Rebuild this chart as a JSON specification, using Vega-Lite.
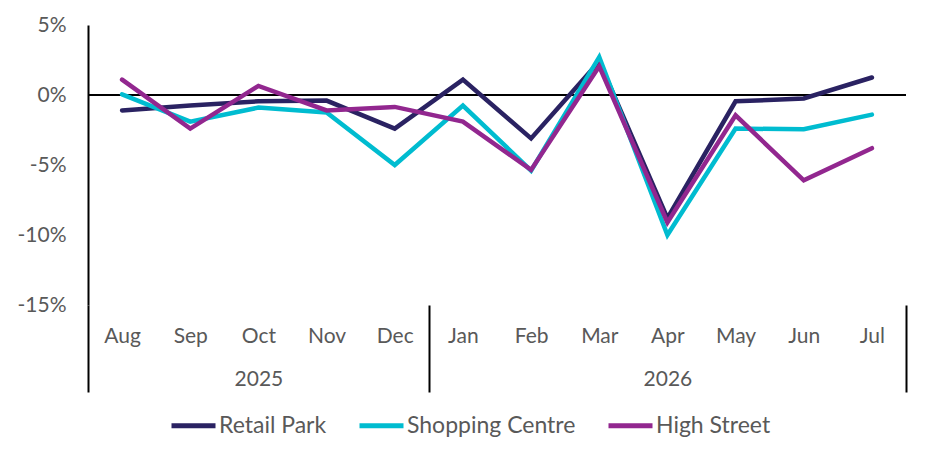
{
  "$schema": "https://vega.github.io/schema/vega-lite/v6.json",
  "width": 818,
  "height": 280,
  "autosize": {"type": "none"},
  "padding": {"left": 88, "top": 25, "right": 23, "bottom": 151},
  "background": "white",
  "data": {
    "values": [
      {"series": "Retail Park", "month": "Aug", "value": -1.1},
      {"series": "Retail Park", "month": "Sep", "value": -0.75},
      {"series": "Retail Park", "month": "Oct", "value": -0.45},
      {"series": "Retail Park", "month": "Nov", "value": -0.4},
      {"series": "Retail Park", "month": "Dec", "value": -2.4},
      {"series": "Retail Park", "month": "Jan", "value": 1.1},
      {"series": "Retail Park", "month": "Feb", "value": -3.1},
      {"series": "Retail Park", "month": "Mar", "value": 2.4},
      {"series": "Retail Park", "month": "Apr", "value": -8.8},
      {"series": "Retail Park", "month": "May", "value": -0.45},
      {"series": "Retail Park", "month": "Jun", "value": -0.25},
      {"series": "Retail Park", "month": "Jul", "value": 1.25},
      {"series": "Shopping Centre", "month": "Aug", "value": 0.05},
      {"series": "Shopping Centre", "month": "Sep", "value": -1.9},
      {"series": "Shopping Centre", "month": "Oct", "value": -0.9},
      {"series": "Shopping Centre", "month": "Nov", "value": -1.25},
      {"series": "Shopping Centre", "month": "Dec", "value": -5.0},
      {"series": "Shopping Centre", "month": "Jan", "value": -0.75},
      {"series": "Shopping Centre", "month": "Feb", "value": -5.4},
      {"series": "Shopping Centre", "month": "Mar", "value": 2.7},
      {"series": "Shopping Centre", "month": "Apr", "value": -10.0},
      {"series": "Shopping Centre", "month": "May", "value": -2.4},
      {"series": "Shopping Centre", "month": "Jun", "value": -2.45},
      {"series": "Shopping Centre", "month": "Jul", "value": -1.4},
      {"series": "High Street", "month": "Aug", "value": 1.1},
      {"series": "High Street", "month": "Sep", "value": -2.4},
      {"series": "High Street", "month": "Oct", "value": 0.65},
      {"series": "High Street", "month": "Nov", "value": -1.1},
      {"series": "High Street", "month": "Dec", "value": -0.85},
      {"series": "High Street", "month": "Jan", "value": -1.9},
      {"series": "High Street", "month": "Feb", "value": -5.35},
      {"series": "High Street", "month": "Mar", "value": 2.05},
      {"series": "High Street", "month": "Apr", "value": -9.1},
      {"series": "High Street", "month": "May", "value": -1.45},
      {"series": "High Street", "month": "Jun", "value": -6.1},
      {"series": "High Street", "month": "Jul", "value": -3.8}
    ]
  },
  "layer": [
    {
      "data": {"values": [{"zero": 0}]},
      "mark": {"type": "rule", "color": "black", "strokeWidth": 2},
      "encoding": {
        "y": {"field": "zero", "type": "quantitative"}
      }
    },
    {
      "mark": {"type": "line", "strokeWidth": 4.5, "strokeCap": "round"},
      "encoding": {
        "x": {
          "field": "month",
          "type": "ordinal",
          "sort": ["Aug", "Sep", "Oct", "Nov", "Dec", "Jan", "Feb", "Mar", "Apr", "May", "Jun", "Jul"],
          "scale": {"type": "band", "paddingInner": 0, "paddingOuter": 0},
          "axis": {
            "title": null,
            "domain": false,
            "labelAngle": 0,
            "labelOverlap": false,
            "labelPadding": -67,
            "labelLineHeight": 43,
            "labelExpr": "datum.value == 'Oct' ? ['Oct', '2025'] : datum.value == 'Apr' ? ['Apr', '2026'] : datum.value",
            "ticks": true,
            "tickBand": "extent",
            "tickSize": 87,
            "tickWidth": 2,
            "tickColor": {
              "condition": {
                "test": "datum.value === 'Dec' || datum.value === 'Jul' || !datum.value || datum.index < 0",
                "value": "black"
              },
              "value": "transparent"
            }
          }
        },
        "y": {
          "field": "value",
          "type": "quantitative",
          "scale": {"domain": [-15, 5], "nice": false, "zero": false},
          "axis": {
            "title": null,
            "values": [-15, -10, -5, 0, 5],
            "labelExpr": "datum.value + '%'",
            "ticks": false,
            "grid": false,
            "domainColor": "black",
            "domainWidth": 2,
            "labelPadding": 22
          }
        },
        "color": {
          "field": "series",
          "type": "nominal",
          "scale": {
            "domain": ["Retail Park", "Shopping Centre", "High Street"],
            "range": ["#2a2262", "#00bcd0", "#92278f"]
          },
          "legend": {
            "title": null,
            "orient": "none",
            "direction": "horizontal",
            "legendX": 81,
            "legendY": 376,
            "symbolType": "stroke",
            "symbolSize": 1936,
            "symbolStrokeWidth": 5,
            "labelOffset": 1,
            "labelLimit": 400,
            "columnPadding": 22,
            "padding": 0
          }
        }
      }
    }
  ],
  "config": {
    "view": {"stroke": null},
    "font": "Lato",
    "axis": {
      "labelFont": "Lato",
      "labelFontSize": 21,
      "labelColor": "#595959"
    },
    "legend": {
      "labelFont": "Lato",
      "labelFontSize": 23,
      "labelColor": "#595959"
    }
  }
}
